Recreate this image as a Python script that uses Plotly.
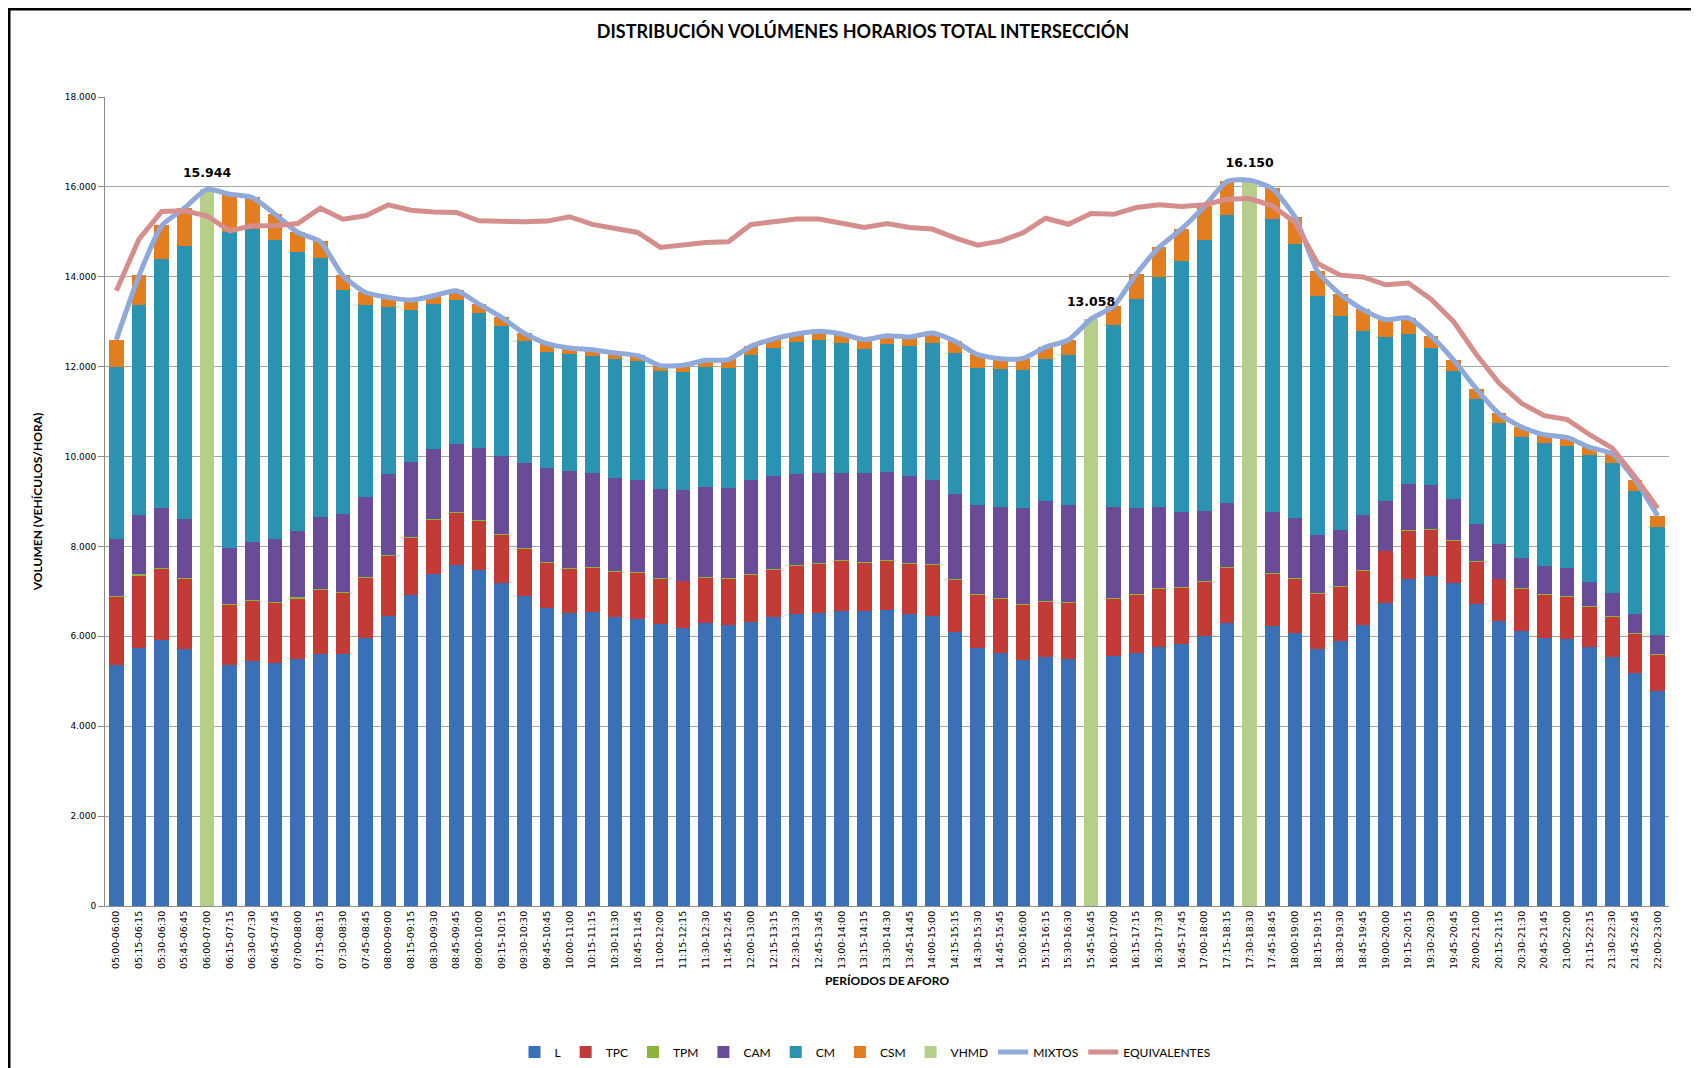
import plotly.graph_objects as go

periodos = [
    "05:00-06:00", "05:15-06:15", "05:30-06:30", "05:45-06:45", "06:00-07:00", "06:15-07:15",
    "06:30-07:30", "06:45-07:45", "07:00-08:00", "07:15-08:15", "07:30-08:30", "07:45-08:45",
    "08:00-09:00", "08:15-09:15", "08:30-09:30", "08:45-09:45", "09:00-10:00", "09:15-10:15",
    "09:30-10:30", "09:45-10:45", "10:00-11:00", "10:15-11:15", "10:30-11:30", "10:45-11:45",
    "11:00-12:00", "11:15-12:15", "11:30-12:30", "11:45-12:45", "12:00-13:00", "12:15-13:15",
    "12:30-13:30", "12:45-13:45", "13:00-14:00", "13:15-14:15", "13:30-14:30", "13:45-14:45",
    "14:00-15:00", "14:15-15:15", "14:30-15:30", "14:45-15:45", "15:00-16:00", "15:15-16:15",
    "15:30-16:30", "15:45-16:45", "16:00-17:00", "16:15-17:15", "16:30-17:30", "16:45-17:45",
    "17:00-18:00", "17:15-18:15", "17:30-18:30", "17:45-18:45", "18:00-19:00", "18:15-19:15",
    "18:30-19:30", "18:45-19:45", "19:00-20:00", "19:15-20:15", "19:30-20:30", "19:45-20:45",
    "20:00-21:00", "20:15-21:15", "20:30-21:30", "20:45-21:45", "21:00-22:00", "21:15-22:15",
    "21:30-22:30", "21:45-22:45", "22:00-23:00",
]

N = None
L = [5355, 5748, 5926, 5726, N, 5355, 5452, 5407, 5489, 5615, 5600, 5963,
     6452, 6926, 7378, 7578, 7467, 7185, 6889, 6628, 6516, 6545, 6427, 6383,
     6271, 6182, 6293, 6256, 6330, 6441, 6486, 6530, 6568, 6553, 6590, 6494,
     6456, 6093, 5737, 5626, 5482, 5530, 5506, N, 5562, 5626, 5768, 5824,
     6005, 6298, N, 6219, 6084, 5720, 5903, 6243, 6750, 7270, 7344, 7191,
     6715, 6332, 6127, 5957, 5940, 5761, 5549, 5191, 4783]
TPC = [1541, 1607, 1578, 1555, N, 1356, 1348, 1356, 1363, 1422, 1385, 1355,
       1348, 1267, 1215, 1185, 1111, 1082, 1059, 1016, 994, 995, 1016, 1038,
       1024, 1053, 1017, 1024, 1054, 1040, 1084, 1084, 1113, 1091, 1098, 1135,
       1136, 1180, 1202, 1209, 1236, 1243, 1244, N, 1290, 1306, 1298, 1266,
       1220, 1228, N, 1188, 1204, 1227, 1203, 1227, 1150, 1086, 1033, 936,
       961, 944, 937, 970, 953, 911, 893, 868, 808]
TPM = [8, 22, 15, 10, N, 9, 12, 11, 14, 10, 12, 9,
       11, 8, 10, 9, 12, 10, 8, 9, 7, 8, 10, 9,
       8, 7, 9, 8, 10, 9, 11, 10, 9, 8, 10, 9,
       8, 9, 7, 8, 9, 10, 8, N, 9, 10, 8, 9,
       11, 10, N, 9, 8, 10, 9, 8, 7, 9, 8, 7,
       8, 6, 7, 8, 6, 7, 6, 5, 6]
CAM = [1252, 1312, 1333, 1312, N, 1252, 1297, 1385, 1467, 1615, 1726, 1779,
       1800, 1681, 1563, 1504, 1592, 1733, 1911, 2085, 2159, 2078, 2079, 2048,
       1982, 2012, 1996, 2011, 2085, 2077, 2033, 2019, 1952, 1974, 1959, 1929,
       1877, 1893, 1966, 2041, 2138, 2218, 2162, N, 2020, 1916, 1806, 1663,
       1552, 1425, N, 1346, 1346, 1307, 1251, 1228, 1110, 1027, 973, 911,
       826, 766, 681, 639, 613, 536, 511, 443, 443]
CM = [3837, 4689, 5533, 6081, N, 7022, 6962, 6667, 6222, 5763, 4978, 4259,
      3719, 3370, 3222, 3200, 3023, 2889, 2704, 2589, 2598, 2611, 2648, 2649,
      2619, 2627, 2686, 2679, 2776, 2858, 2924, 2953, 2894, 2760, 2843, 2894,
      3058, 3139, 3065, 3057, 3065, 3168, 3342, N, 4039, 4657, 5108, 5584,
      6035, 6415, N, 6518, 6083, 5314, 4768, 4094, 3645, 3331, 3048, 2868,
      2775, 2698, 2680, 2723, 2724, 2809, 2894, 2723, 2383]
CSM = [608, 666, 763, 852, N, 852, 704, 578, 444, 363, 333, 296,
       222, 237, 200, 222, 200, 207, 178, 194, 149, 149, 135, 127,
       126, 156, 149, 186, 207, 201, 201, 200, 201, 223, 200, 208,
       223, 259, 297, 245, 262, 277, 340, N, 436, 555, 674, 728,
       752, 753, N, 689, 610, 547, 483, 476, 390, 371, 286, 239,
       229, 213, 230, 196, 195, 187, 212, 256, 264]
VHMD = [N, N, N, N, 15944, N, N, N, N, N, N, N,
        N, N, N, N, N, N, N, N, N, N, N, N,
        N, N, N, N, N, N, N, N, N, N, N, N,
        N, N, N, N, N, N, N, 13058, N, N, N, N,
        N, N, 16150, N, N, N, N, N, N, N, N, N,
        N, N, N, N, N, N, N, N, N]
MIXTOS = [12600, 14022, 15133, 15526, 15944, 15837, 15763, 15393, 14985, 14778, 14022, 13652,
          13541, 13481, 13578, 13689, 13393, 13096, 12741, 12512, 12416, 12378, 12305, 12245,
          12022, 12030, 12141, 12156, 12452, 12617, 12728, 12786, 12728, 12601, 12690, 12660,
          12750, 12564, 12267, 12178, 12183, 12436, 12594, 13058, 13347, 14060, 14654, 15065,
          15564, 16119, 16150, 15960, 15327, 14115, 13608, 13268, 13045, 13085, 12684, 12145,
          11506, 10953, 10655, 10485, 10425, 10204, 10059, 9481, 8681]
EQUIVALENTES = [13689, 14837, 15452, 15467, 15356, 15022, 15133, 15133, 15185, 15526, 15282, 15356,
                15600, 15481, 15444, 15430, 15244, 15224, 15224, 15239, 15336, 15165, 15076, 14987,
                14653, 14705, 14764, 14779, 15165, 15224, 15284, 15284, 15187, 15098, 15187, 15098,
                15061, 14868, 14705, 14794, 14979, 15303, 15168, 15406, 15390, 15541, 15604, 15564,
                15604, 15723, 15739, 15580, 15208, 14297, 14036, 13996, 13822, 13862, 13500, 13000,
                12272, 11634, 11183, 10911, 10826, 10485, 10187, 9549, 8850]

y_ticks = [0, 2000, 4000, 6000, 8000, 10000, 12000, 14000, 16000, 18000]

bar_series = [
    ("L", L, "#3A70B6"),
    ("TPC", TPC, "#C23B36"),
    ("TPM", TPM, "#8DB33D"),
    ("CAM", CAM, "#6A4B98"),
    ("CM", CM, "#2A93B2"),
    ("CSM", CSM, "#E27D20"),
    ("VHMD", VHMD, "#B5CF8B"),
]

# figure sits at an 8px page offset (default body margin)
W, H = 1691, 1060
ML, MR, MT, MB = 97, 30, 89, 162
PW, PH = W - ML - MR, H - MT - MB

fig = go.Figure()
for name, vals, col in bar_series:
    fig.add_trace(go.Bar(
        x=periodos, y=vals, name=name,
        marker=dict(color=col, line=dict(width=0)),
    ))

fig.add_trace(go.Scatter(
    x=periodos, y=MIXTOS, name="MIXTOS", mode="lines",
    line=dict(color="#8EA9DA", width=5, shape="spline", smoothing=0.6),
))
fig.add_trace(go.Scatter(
    x=periodos, y=EQUIVALENTES, name="EQUIVALENTES", mode="lines",
    line=dict(color="#D48F8D", width=5),
))
fig.add_trace(go.Scatter(
    x=periodos, y=VHMD, mode="markers+text", showlegend=False, hoverinfo="skip",
    marker=dict(size=14, color="rgba(0,0,0,0)"),
    text=[None if v is None else f"{v:,}".replace(",", ".") for v in VHMD],
    textposition="top center",
    textfont=dict(family="DejaVu Sans", size=12.5, color="#000000"),
    texttemplate="<b>%{text}</b>",
    cliponaxis=False,
))

fig.update_layout(
    width=W, height=H,
    paper_bgcolor="white", plot_bgcolor="white",
    barmode="stack", bargap=0.34,
    separators=",.",
    margin=dict(l=ML, r=MR, t=MT, b=MB, autoexpand=False),
    title=dict(
        text="<b>DISTRIBUCIÓN VOLÚMENES HORARIOS TOTAL INTERSECCIÓN</b>",
        x=855 / W, xanchor="center", y=1 - 24 / H, yanchor="middle",
        font=dict(family="Lato", size=18, color="#000000"),
    ),
    showlegend=True,
    legend=dict(
        orientation="h", x=(857 - ML) / PW, xanchor="center",
        y=1 - (1044 - MT) / PH, yanchor="middle",
        font=dict(family="Lato", size=12, color="#000000"),
        itemwidth=30, traceorder="normal", tracegroupgap=0,
    ),
    xaxis=dict(
        type="category", tickangle=-90, range=[-0.5, 68.5], autorange=False,
        automargin=False,
        tickfont=dict(family="DejaVu Sans", size=9.5, color="#000000"),
        showgrid=False, showline=True, linecolor="#8C8C8C", linewidth=1,
        ticks="", ticklen=0,
        title=dict(text="<b>PERÍODOS DE AFORO</b>", standoff=8,
                   font=dict(family="Lato", size=12, color="#000000")),
    ),
    yaxis=dict(
        range=[0, 18000], autorange=False, tickvals=y_ticks, tickformat=",d",
        automargin=False,
        tickfont=dict(family="DejaVu Sans", size=9, color="#000000"),
        showgrid=True, gridcolor="#A6A6A6", gridwidth=1,
        showline=True, linecolor="#8C8C8C", linewidth=1,
        ticks="outside", ticklen=6, tickcolor="#8C8C8C",
        zeroline=False,
        title=dict(text="<b>VOLUMEN (VEHÍCULOS/HORA)</b>", standoff=19,
                   font=dict(family="Lato", size=12, color="#000000")),
    ),
)

# outer frame of the chart object
fig.add_shape(type="rect", xref="paper", yref="paper",
              x0=(1 - ML) / PW, x1=(1686 - ML) / PW,
              y0=1 - (1080 - MT) / PH, y1=1 - (1 - MT) / PH,
              line=dict(color="#000000", width=3), fillcolor="rgba(0,0,0,0)", layer="above")

fig.write_html("out.html")
